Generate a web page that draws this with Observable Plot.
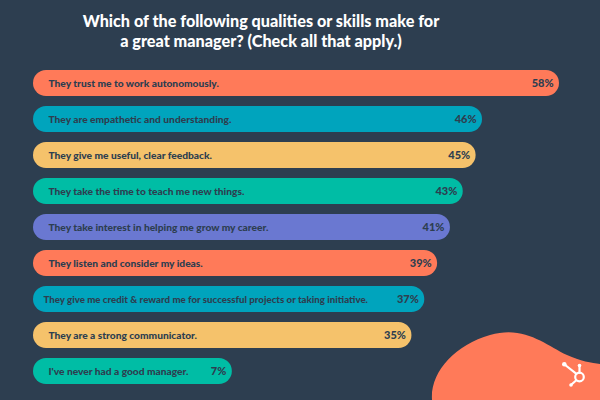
<!DOCTYPE html>
<html>
<head>
<meta charset="utf-8">
<script src="https://cdn.jsdelivr.net/npm/d3@7"></script>
<script src="https://cdn.jsdelivr.net/npm/@observablehq/plot@0.6"></script>
<style>
  html, body { margin: 0; padding: 0; background: #2d3e50; }
  #wrap { position: relative; width: 600px; height: 400px; overflow: hidden; background: #2d3e50; font-family: Lato, "Open Sans", sans-serif; }
  #title { position: relative; height: 56px; box-sizing: border-box; padding-top: 11px; padding-right: 78px; color: #ffffff; font-weight: 900; font-size: 16.2px; line-height: 19.5px; text-align: center; z-index: 2; }
  #title div { white-space: nowrap; }
  #deco { position: absolute; left: 0; top: 0; width: 600px; height: 400px; z-index: 0; pointer-events: none; }
  #chart { position: relative; z-index: 1; }
  #chart svg { display: block; }
</style>
</head>
<body>
<div id="wrap">
  <svg id="deco" viewBox="0 0 600 400" width="600" height="400">
    <path d="M432,400 C430,372 455,345 490,335 C525,325 545,345 567,355 C580,361 592,363 600,364 L600,400 Z" fill="#ff7a59"/>
    <g stroke="#ffffff" stroke-width="2.2" fill="none" stroke-linecap="round">
      <circle cx="579.5" cy="377" r="4.3"/>
      <line x1="579.5" y1="372.7" x2="579.5" y2="366"/>
      <line x1="576.5" y1="373.8" x2="564.5" y2="364.5"/>
      <line x1="576.3" y1="380.3" x2="571.2" y2="384.8"/>
    </g>
    <g fill="#ffffff">
      <circle cx="579.5" cy="365.5" r="1.8"/>
      <circle cx="564.3" cy="364.3" r="2.3"/>
      <circle cx="571" cy="385" r="1.8"/>
    </g>
  </svg>
  <div id="title"><div>Which of the following qualities or skills make for</div><div>a great manager? (Check all that apply.)</div></div>
  <div id="chart"></div>
</div>
<script>
const labels = [
  "They trust me to work autonomously.",
  "They are empathetic and understanding.",
  "They give me useful, clear feedback.",
  "They take the time to teach me new things.",
  "They take interest in helping me grow my career.",
  "They listen and consider my ideas.",
  "They give me credit & reward me for successful projects or taking initiative.",
  "They are a strong communicator.",
  "I've never had a good manager."
];
const values = [58, 46, 45, 43, 41, 39, 37, 35, 7];

const palette = ["#ff7a59", "#00a4bd", "#f5c26b", "#00bda5", "#6a78d1", "#ff7a59", "#00a4bd", "#f5c26b", "#00bda5"];
const xStart = -24;
const data = labels.map((label, i) => ({label, value: values[i]}));
const isLong = d => d.label.length > 60;

const chart = Plot.plot({
  width: 600,
  height: 344,
  marginTop: 2,
  marginBottom: 4,
  marginLeft: 33,
  marginRight: 41,
  style: {background: "transparent", fontFamily: "Lato, 'Open Sans', sans-serif"},
  x: {domain: [xStart, 58], axis: null},
  y: {domain: labels, padding: 0.286, axis: null},
  color: {domain: labels, range: palette},
  marks: [
    Plot.barX(data, {x1: xStart, x2: "value", y: "label", fill: "label", rx: 13}),
    Plot.text(data.filter(d => !isLong(d)), {x: xStart, y: "label", text: "label", textAnchor: "start", dx: 15, fill: "#2d3e50", fontWeight: 900, fontSize: 10.2}),
    Plot.text(data.filter(isLong), {x: xStart, y: "label", text: "label", textAnchor: "start", dx: 10, fill: "#2d3e50", fontWeight: 900, fontSize: 9.7}),
    Plot.text(data, {x: "value", y: "label", text: d => d.value + "%", textAnchor: "end", dx: -6, fill: "#2d3e50", fontWeight: 900, fontSize: 11})
  ]
});
document.getElementById("chart").appendChild(chart);
</script>
</body>
</html>
